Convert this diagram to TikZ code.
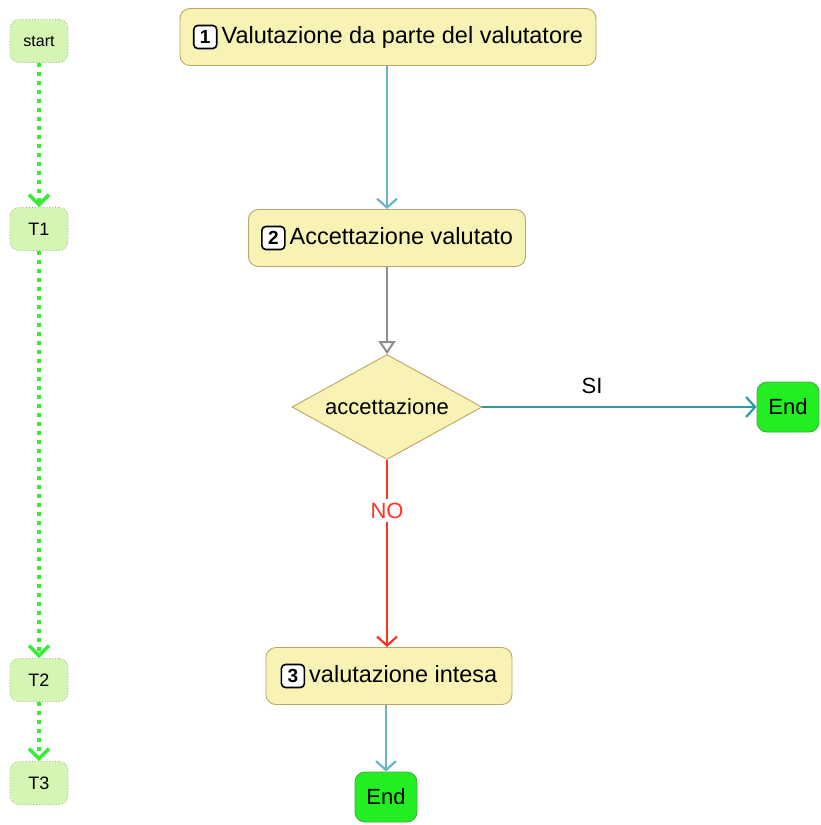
\documentclass[tikz,border=0pt]{standalone}
\usepackage{fontspec}
\setmainfont{Liberation Sans}
\usetikzlibrary{arrows.meta,shapes.geometric}
\definecolor{boxfill}{HTML}{F8F3B4}
\definecolor{boxdraw}{HTML}{B9A566}
\definecolor{lblue}{HTML}{6BB5C9}
\definecolor{agray}{HTML}{8E8E8E}
\definecolor{teal2}{HTML}{2E9C9C}
\definecolor{ared}{HTML}{FF3322}
\definecolor{dgreen}{HTML}{33EE33}
\definecolor{tfill}{HTML}{D6F5B5}
\definecolor{tdraw}{HTML}{99BB88}
\definecolor{endfill}{HTML}{22EE22}
\definecolor{enddraw}{HTML}{44AA44}
\tikzset{
  stepbox/.style={draw=boxdraw, fill=boxfill, rounded corners=10pt, line width=0.9pt, minimum height=57pt, inner sep=0pt, font=\fontsize{23.5}{28}\selectfont},
  badge/.style={draw=black, fill=white, rounded corners=4pt, line width=1.6pt, minimum width=23pt, minimum height=23pt, inner sep=0pt, font=\fontsize{19}{22}\selectfont\bfseries},
  decision/.style={diamond, draw=boxdraw, fill=boxfill, line width=0.9pt, shape aspect=1.8, minimum width=190pt, minimum height=105pt, inner sep=0pt, font=\fontsize{22}{26}\selectfont},
  tnode/.style={draw=tdraw, fill=tfill, dotted, rounded corners=9pt, line width=0.9pt, minimum width=58pt, minimum height=43pt, inner sep=0pt, font=\fontsize{18}{22}\selectfont},
  endnode/.style={draw=enddraw, fill=endfill, rounded corners=10pt, line width=0.9pt, minimum width=62pt, minimum height=50pt, inner sep=0pt, font=\fontsize{22}{26}\selectfont},
  chev/.style={-{Straight Barb[length=9pt,width=20pt,line width=2.2pt]}},
  flow/.style={line width=2.2pt, chev},
  greenflow/.style={draw=dgreen, line width=4pt, dash pattern=on 4pt off 5pt, -{Straight Barb[length=10pt,width=20pt,line width=3.5pt]}},
}
\newcommand{\badgebox}[1]{\tikz[baseline=(b.base)]\node[badge](b){#1};\hspace{4pt}}
\begin{document}
\begin{tikzpicture}[x=1pt,y=-1pt]
\useasboundingbox[fill=white] (0,0) rectangle (820,825);

% timeline nodes
\node[tnode] (start) at (39,41) {\fontsize{16}{19}\selectfont start};
\node[tnode] (t1) at (39,229) {T1};
\node[tnode] (t2) at (39,680) {T2};
\node[tnode] (t3) at (39,783) {T3};

% main flow
\node[stepbox, minimum width=416pt] (b1) at (388,37) {\badgebox{1}Valutazione da parte del valutatore};
\node[stepbox, minimum width=277pt] (b2) at (387,238) {\badgebox{2}Accettazione valutato};
\node[decision] (d) at (387,407) {accettazione};
\node[endnode] (e1) at (788,407) {End};
\node[stepbox, minimum width=246pt] (b3) at (389,676) {\badgebox{3}valutazione intesa};
\node[endnode] (e2) at (386,797) {End};

% connectors
\draw[flow, draw=lblue] (b1.south -| b2.north) -- (b2.north);
\draw[line width=2.2pt, draw=agray, -{Triangle[open,length=13pt,width=17pt,line width=2pt]}] (b2.south) -- (d.north);
\draw[flow, draw=teal2] (d.east) -- node[pos=0.4, above=9pt, text=black, font=\fontsize{22}{26}\selectfont] {SI} (e1.west);
\draw[flow, draw=ared] (d.south) -- node[pos=0.27, fill=white, text=ared, inner sep=4pt, font=\fontsize{22}{26}\selectfont] {NO} (b3.north -| d.south);
\draw[flow, draw=lblue] (b3.south -| e2.north) -- (e2.north);

% green timeline
\draw[greenflow] (start.south) -- (t1.north);
\draw[greenflow] (t1.south) -- (t2.north);
\draw[greenflow] (t2.south) -- (t3.north);
\end{tikzpicture}
\end{document}
